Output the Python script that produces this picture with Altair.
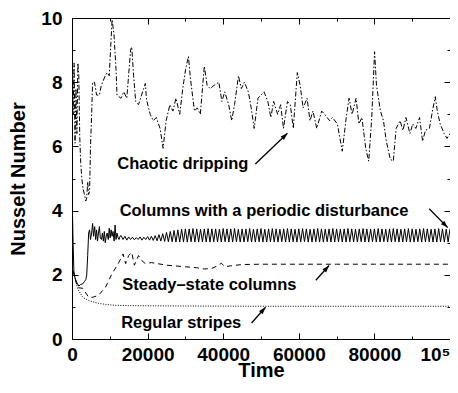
import altair as alt
import pandas as pd

# ---------------- data ----------------
CHAOTIC_T = [0, 300, 550, 800, 1050, 1300, 1550, 1800, 2050, 2300,
             2600, 2900, 3300, 3650, 3900, 4150, 4400, 4650, 4900, 5200,
             5450, 5950, 6500, 7250, 7750, 8800, 9300, 9850, 10600, 11100,
             11650, 11900, 12950, 13700, 14500, 15500, 15800, 16300, 16850, 17600,
             18400, 19400, 19700, 20700, 21500, 22300, 23300, 24100, 24900, 25900,
             26700, 27500, 28500, 29300, 30050, 30800, 31350, 32400, 33150, 33950,
             35000, 35750, 36550, 37550, 38850, 39650, 40400, 41450, 42250, 43000,
             44050, 44800, 45600, 46650, 47400, 48200, 49200, 50000, 50800, 51800,
             52600, 53350, 54400, 55200, 55950, 57000, 57750, 58550, 59600, 60350,
             61150, 62200, 62950, 63750, 64750, 66050, 66850, 68150, 68900, 70200,
             71500, 72550, 73300, 74100, 75150, 75900, 76700, 77700, 78500, 79300,
             80050, 80550, 81600, 82400, 83150, 84200, 85000, 85750, 86800, 87550,
             88350, 89400, 90150, 90950, 91950, 92750, 93500, 94550, 95350, 96100,
             96650, 97400, 98450, 99200, 100000]
CHAOTIC_V = [10.0, 7.0, 8.6, 6.1, 7.8, 6.4, 8.6, 8.2, 6.3, 5.5,
             5.0, 4.7, 4.5, 4.3, 4.4, 4.9, 4.5, 4.6, 6.0, 7.0,
             8.0, 8.0, 7.6, 7.6, 7.9, 8.2, 8.3, 8.2, 9.95, 9.5,
             8.4, 7.6, 7.5, 7.7, 7.5, 9.0, 9.1, 8.2, 7.4, 7.3,
             7.6, 7.96, 7.46, 7.0, 6.8, 6.9, 6.56, 5.94, 6.8, 7.3,
             7.1, 7.5, 7.0, 7.8, 8.4, 8.8, 8.1, 7.1, 7.2, 7.0,
             8.5, 7.9, 7.8, 7.9, 8.0, 7.4, 7.7, 7.3, 6.8, 7.3,
             8.2, 7.8, 8.0, 7.7, 7.2, 6.56, 7.5, 7.6, 7.7, 7.4,
             6.9, 7.4, 7.0, 7.3, 6.56, 7.4, 7.3, 6.56, 8.3, 7.9,
             7.2, 7.5, 6.8, 7.1, 6.56, 7.1, 7.0, 6.8, 6.9, 6.7,
             5.85, 6.9, 7.5, 7.0, 7.5, 6.7, 6.9, 5.94, 5.54, 6.9,
             8.95, 7.9, 7.1, 6.8, 6.16, 5.6, 5.54, 6.56, 6.8, 6.5,
             6.9, 6.4, 6.7, 6.56, 6.9, 6.16, 6.5, 6.56, 7.1, 7.55,
             7.1, 6.7, 6.4, 6.25, 6.4]

PERIODIC_T = [0, 250, 500, 800, 1300, 1800, 2300, 2850, 3350, 3650,
              3900, 4150, 4400, 4650, 4900, 5200, 5450, 5700, 6000, 6250,
              6500, 6750, 7000, 7250, 7500, 7800, 8050, 8300, 8550, 8800,
              9050, 9300, 9600, 9850, 10100, 10350, 10600, 10850, 11150, 11400,
              11650, 11900, 12200, 12450, 12700] + list(range(13000, 100001, 500))
PERIODIC_V = [4.7, 3.2, 2.1, 1.9, 1.75, 1.65, 1.7, 1.72, 1.8, 1.85,
              2.0, 2.6, 3.3, 3.4, 3.1, 3.3, 3.6, 3.2, 3.5, 3.1,
              3.4, 3.05, 3.3, 3.5, 3.15, 3.1, 3.3, 3.05, 3.35, 3.0,
              3.2, 3.3, 3.1, 3.45, 3.15, 3.4, 3.2, 3.35, 3.05, 3.55,
              3.1, 3.3, 3.15, 3.1, 3.2,
              3.22, 3.10, 3.20, 3.08, 3.18, 3.10, 3.17, 3.09, 3.16, 3.10, 3.18,
              3.08, 3.17, 3.10, 3.19, 3.08, 3.20, 3.07, 3.22, 3.06, 3.25, 3.05,
              3.28, 3.04, 3.32, 3.03, 3.35, 3.03, 3.38, 3.02, 3.40, 3.02, 3.42, 3.02, 3.43,
              3.02, 3.43, 3.03, 3.44, 3.02, 3.43, 3.02, 3.42, 3.03, 3.43,
              3.02, 3.44, 3.02, 3.43, 3.03, 3.43, 3.02, 3.42, 3.02, 3.44,
              3.03, 3.43, 3.02, 3.43, 3.02, 3.44, 3.03, 3.42, 3.02, 3.43,
              3.02, 3.43, 3.03, 3.44, 3.02, 3.42, 3.02, 3.43, 3.03, 3.44,
              3.02, 3.42, 3.02, 3.43, 3.03, 3.44, 3.02, 3.43, 3.02, 3.42,
              3.03, 3.43, 3.02, 3.44, 3.02, 3.43, 3.03, 3.42, 3.02, 3.43,
              3.02, 3.44, 3.03, 3.43, 3.02, 3.42, 3.02, 3.43, 3.03, 3.44,
              3.02, 3.43, 3.02, 3.42, 3.03, 3.43, 3.02, 3.44, 3.02, 3.43,
              3.03, 3.42, 3.02, 3.43, 3.02, 3.44, 3.03, 3.43, 3.02, 3.42,
              3.02, 3.43, 3.03, 3.44, 3.02, 3.43, 3.02, 3.42, 3.03, 3.43,
              3.02, 3.44, 3.02, 3.43, 3.03, 3.42, 3.02, 3.43, 3.02, 3.44,
              3.03, 3.43, 3.02, 3.42, 3.02, 3.43, 3.03, 3.44, 3.02, 3.43,
              3.02, 3.42, 3.03, 3.43, 3.02, 3.44, 3.02, 3.43, 3.03, 3.42,
              3.02, 3.43, 3.02, 3.44, 3.03, 3.43, 3.02, 3.42, 3.02, 3.43]

STEADY_T = [0, 500, 1500, 2850, 4400, 5500, 7000, 8800, 10600, 12000,
            12900, 13500, 14200, 15000, 15800, 16500, 17600, 18400, 19400, 21000,
            25000, 30000, 33000, 35000, 37000, 38500, 39500, 40500, 42000, 45000,
            50000, 60000, 70000, 80000, 90000, 100000]
STEADY_V = [2.4, 2.0, 1.6, 1.58, 1.3, 1.3, 1.36, 1.6, 2.04, 2.3,
            2.5, 2.65, 2.35, 2.6, 2.7, 2.3, 2.6, 2.45, 2.35, 2.38,
            2.3, 2.25, 2.22, 2.18, 2.2, 2.28, 2.36, 2.25, 2.28, 2.32,
            2.33, 2.33, 2.33, 2.33, 2.33, 2.33]

STRIPES_T = [0, 800, 1550, 2850, 4400, 7000, 9500, 11400, 15000, 25000, 50000, 100000]
STRIPES_V = [2.2, 1.9, 1.55, 1.3, 1.2, 1.11, 1.07, 1.05, 1.04, 1.03, 1.02, 1.02]

LABELS = ["Chaotic dripping", "Columns with a periodic disturbance",
          "Steady\u2013state columns", "Regular stripes"]
LABEL_T = [12000, 12600, 13300, 13000]
LABEL_V = [5.29, 3.84, 1.52, 0.34]

ARROW_T0 = [48500, 94500, 64500, 47500]
ARROW_V0 = [5.45, 4.06, 1.83, 0.50]
ARROW_T1 = [57000, 99400, 68000, 51200]
ARROW_V1 = [6.41, 3.47, 2.29, 0.99]
ARROW_ANGLE = [46, 135, 41, 41]

X_MAJOR = [0, 20000, 40000, 60000, 80000, 100000]
X_ALL = [0, 10000, 20000, 30000, 40000, 50000, 60000, 70000, 80000, 90000, 100000]
Y_MAJOR = [0, 2, 4, 6, 8, 10]
Y_ALL = [0, 1, 2, 3, 4, 5, 6, 7, 8, 9, 10]

# ---------------- chart ----------------
W, H = 378, 321
FONT = "Liberation Sans"
XS = alt.Scale(domain=[0, 100000], nice=False, zero=False)
YS = alt.Scale(domain=[0, 10], nice=False, zero=False)


def series(t, v, dash=None, width=1.0):
    df = pd.DataFrame({"t": t, "v": v})
    kw = dict(color="black", strokeWidth=width, clip=True)
    if dash is not None:
        kw["strokeDash"] = dash
    return alt.Chart(df).mark_line(**kw).encode(
        x=alt.X("t:Q", scale=XS, axis=None),
        y=alt.Y("v:Q", scale=YS, axis=None),
    )


chaotic = series(CHAOTIC_T, CHAOTIC_V, dash=[5, 2, 1.5, 2])
periodic = series(PERIODIC_T, PERIODIC_V)
steady = series(STEADY_T, STEADY_V, dash=[5, 4])
stripes = series(STRIPES_T, STRIPES_V, dash=[1, 1.5])

base_df = pd.DataFrame({"t": CHAOTIC_T, "v": CHAOTIC_V})

frame_on = dict(domain=True, domainColor="black", domainWidth=1)

label_axes = alt.Chart(base_df).mark_line(opacity=0).encode(
    x=alt.X("t:Q", scale=XS, axis=alt.Axis(
        orient="bottom", values=X_MAJOR, ticks=False, grid=False,
        format="d",
        labelExpr="datum.value == 100000 ? '10\u2075' : datum.label",
        labelAlign={"condition": {"test": "datum.value == 100000", "value": "right"}, "value": "center"},
        labelFont=FONT, labelFontSize=19, labelFontWeight="bold", labelColor="black",
        labelPadding=6, labelFlush=False, labelOverlap=False,
        title="Time", titleFont=FONT, titleFontSize=20, titleFontWeight="bold",
        titleColor="black", titleY=37, titleBaseline="alphabetic", **frame_on)),
    y=alt.Y("v:Q", scale=YS, axis=alt.Axis(
        orient="left", values=Y_MAJOR, ticks=False, grid=False,
        labelFont=FONT, labelFontSize=19, labelFontWeight="bold", labelColor="black",
        labelPadding=10, labelFlush=False, labelOverlap=False,
        title="Nusselt Number", titleFont=FONT, titleFontSize=20, titleFontWeight="bold",
        titleColor="black", titlePadding=12, **frame_on)),
)

X_TICK_SIZE = {"condition": {"test": "datum.value % 20000 === 0", "value": 6}, "value": 3}
Y_TICK_SIZE = {"condition": {"test": "datum.value % 2 === 0", "value": 6}, "value": 3}
common = dict(labels=False, grid=False, title=None, tickColor="black", tickWidth=1)

# ticks at bottom (pointing up) and at left (pointing right)
ticks_a = alt.Chart(base_df).mark_line(opacity=0).encode(
    x=alt.X("t:Q", scale=XS, axis=alt.Axis(orient="top", offset=-H, values=X_ALL,
                                           tickSize=X_TICK_SIZE, domain=False, **common)),
    y=alt.Y("v:Q", scale=YS, axis=alt.Axis(orient="right", offset=-W, values=Y_ALL,
                                           tickSize=Y_TICK_SIZE, domain=False, **common)),
)
# ticks at top (pointing down, with the top frame line) and at right (pointing left)
ticks_b = alt.Chart(base_df).mark_line(opacity=0).encode(
    x=alt.X("t:Q", scale=XS, axis=alt.Axis(orient="bottom", offset=-H, values=X_ALL,
                                           tickSize=X_TICK_SIZE, **frame_on, **common)),
    y=alt.Y("v:Q", scale=YS, axis=alt.Axis(orient="left", offset=-W, values=Y_ALL,
                                           tickSize=Y_TICK_SIZE, domain=False, **common)),
)

lab_df = pd.DataFrame({"label": LABELS, "t": LABEL_T, "v": LABEL_V})
texts = alt.Chart(lab_df).mark_text(
    align="left", baseline="alphabetic", font=FONT, fontSize=16.5,
    fontWeight="bold", color="black").encode(
    x=alt.X("t:Q", scale=XS, axis=None),
    y=alt.Y("v:Q", scale=YS, axis=None),
    text="label:N",
)

arr_df = pd.DataFrame({"t0": ARROW_T0, "v0": ARROW_V0, "t1": ARROW_T1,
                       "v1": ARROW_V1, "angle": ARROW_ANGLE})
shafts = alt.Chart(arr_df).mark_rule(color="black", strokeWidth=1.3).encode(
    x=alt.X("t0:Q", scale=XS, axis=None),
    y=alt.Y("v0:Q", scale=YS, axis=None),
    x2="t1:Q", y2="v1:Q",
)
heads = alt.Chart(arr_df).mark_point(
    shape="M0,0L0.8,2.4L-0.8,2.4Z", filled=True, size=36, color="black", opacity=1).encode(
    x=alt.X("t1:Q", scale=XS, axis=None),
    y=alt.Y("v1:Q", scale=YS, axis=None),
    angle=alt.Angle("angle:Q", scale=None),
)

chart = alt.layer(
    label_axes, ticks_a, ticks_b,
    stripes, steady, periodic, chaotic,
    texts, shafts, heads,
).resolve_axis(
    x="independent", y="independent"
).properties(
    width=W, height=H,
    autosize=alt.AutoSizeParams(type="none"),
    padding={"left": 64, "top": 10, "right": 0, "bottom": 42},
    background="white",
).configure_view(
    strokeWidth=0
)

chart.save("out.html", embed_options={"renderer": "svg", "actions": False})
